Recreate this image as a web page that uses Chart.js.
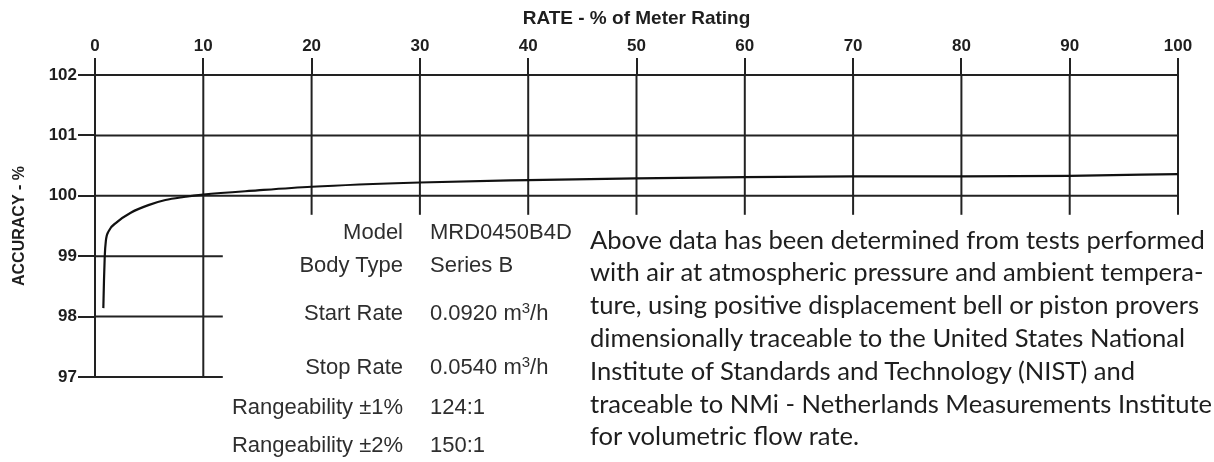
<!DOCTYPE html>
<html>
<head>
<meta charset="utf-8">
<script src="https://cdn.jsdelivr.net/npm/chart.js@4.4.1/dist/chart.umd.min.js"></script>
<style>
  html, body { margin: 0; padding: 0; background: #fff; }
  #wrap { position: relative; width: 1214px; height: 462px; overflow: hidden; }
  #wrap canvas { position: absolute; left: 0; top: 0; }
  .note { position: absolute; pointer-events: none; white-space: nowrap; }
  .spec { font-family: 'Liberation Sans', Arial, sans-serif; font-size: 22px; color: #2e2e2e; line-height: 24px; }
  .spec sup { font-size: 0.68em; vertical-align: 0.5em; line-height: 0; }
  #para { font-family: Lato, 'Open Sans', sans-serif; color: #1e1e1e; line-height: 32.8px; left: 590px; top: 222.6px; }
</style>
</head>
<body>
<div id="wrap">
  <canvas id="chart" width="1214" height="462"></canvas>
  <div id="notes"></div>
</div>
<script>
// ---------- data ----------
const rateValues     = [0.77, 0.83, 0.9, 1.0, 1.25, 2.0, 3.3, 5.0, 6.5, 8.2, 10, 15, 20, 30, 40, 50, 60, 70, 80, 90, 100];
const accuracyValues = [98.14, 98.6, 99.0, 99.25, 99.41, 99.56, 99.72, 99.85, 99.93, 99.98, 100.02, 100.09, 100.15, 100.22, 100.26, 100.29, 100.31, 100.32, 100.32, 100.33, 100.36];
const xTickValues = [0, 10, 20, 30, 40, 50, 60, 70, 80, 90, 100];
const yTickValues = [97, 98, 99, 100, 101, 102];
const xTitle = 'RATE - % of Meter Rating';
const yTitle = 'ACCURACY - %';
const specLabels = ['Model', 'Body Type', 'Start Rate', 'Stop Rate', 'Rangeability \u00b11%', 'Rangeability \u00b12%'];
const specValues = ['MRD0450B4D', 'Series B', '0.0920 m<sup>3</sup>/h', '0.0540 m<sup>3</sup>/h', '124:1', '150:1'];
const noteLines = [
  'Above data has been determined from tests performed',
  'with air at atmospheric pressure and ambient tempera-',
  'ture, using positive displacement bell or piston provers',
  'dimensionally traceable to the United States National',
  'Institute of Standards and Technology (NIST) and',
  'traceable to NMi - Netherlands Measurements Institute',
  'for volumetric flow rate.'
];

// ---------- layout (not data) ----------
const specRowCenters = [232, 265, 313, 367, 407, 445];
const specLabelRight = 403, specValueLeft = 430;
const paraFirstLineWidth = 615;

// ---------- grid plugin ----------
const meterGrid = {
  id: 'meterGrid',
  beforeDatasetsDraw(chart, args, o) {
    const { ctx, scales: { x, y } } = chart;
    const seg = (x1, y1, x2, y2) => { ctx.beginPath(); ctx.moveTo(x1, y1); ctx.lineTo(x2, y2); ctx.stroke(); };
    ctx.save();
    ctx.strokeStyle = o.color;
    ctx.lineWidth = o.width;
    const xMin = x.getPixelForValue(x.min), xMax = x.getPixelForValue(x.max);
    yTickValues.forEach(v => {
      const py = y.getPixelForValue(v);
      const endX = v >= o.splitValue ? xMax : x.getPixelForValue(o.shortRowEnd);
      seg(xMin - 1, py, endX, py);
    });
    xTickValues.forEach(v => {
      const px = x.getPixelForValue(v);
      const endY = v <= o.longColMax ? y.getPixelForValue(y.min) : y.getPixelForValue(o.splitValue) + o.stub;
      seg(px, y.getPixelForValue(y.max) - 1, px, endY + 1);
    });
    ctx.restore();
  }
};

Chart.defaults.font.family = "'Liberation Sans', Arial, sans-serif";
Chart.defaults.color = '#1e1e1e';

new Chart(document.getElementById('chart'), {
  type: 'line',
  data: {
    datasets: [{
      data: rateValues.map((r, i) => ({ x: r, y: accuracyValues[i] })),
      borderColor: '#111',
      borderWidth: 2.2,
      pointRadius: 0,
      cubicInterpolationMode: 'monotone',
      fill: false
    }]
  },
  options: {
    responsive: false,
    animation: false,
    layout: { padding: { left: 0, top: 0, right: 36, bottom: 85 } },
    plugins: {
      legend: { display: false },
      tooltip: { enabled: false },
      meterGrid: { color: '#222', width: 2, splitValue: 100, shortRowEnd: 11.8, longColMax: 10, stub: 18 }
    },
    scales: {
      x: {
        type: 'linear', position: 'top', min: 0, max: 100,
        afterBuildTicks: s => { s.ticks = xTickValues.map(v => ({ value: v })); },
        afterFit: s => { s.height = 75; },
        ticks: { font: { size: 17, weight: 'bold' }, color: '#1e1e1e', padding: 1, maxRotation: 0, autoSkip: false },
        grid: { drawOnChartArea: false, drawTicks: true, tickLength: 17, color: '#222', lineWidth: 2 },
        border: { display: false },
        title: { display: true, text: xTitle, font: { size: 19, weight: 'bold' }, color: '#1e1e1e', padding: { top: 7, bottom: 0 } }
      },
      y: {
        type: 'linear', position: 'left', min: 97, max: 102,
        afterBuildTicks: s => { s.ticks = yTickValues.map(v => ({ value: v })); },
        afterFit: s => { s.width = 95; },
        ticks: { font: { size: 17, weight: 'bold' }, color: '#1e1e1e', padding: 1 },
        grid: { drawOnChartArea: false, drawTicks: true, tickLength: 17, color: '#222', lineWidth: 2 },
        border: { display: false },
        title: { display: true, text: yTitle, font: { size: 16, weight: 'bold' }, color: '#1e1e1e', padding: { top: 10, bottom: 0 } }
      }
    }
  },
  plugins: [meterGrid]
});

// ---------- annotation text ----------
const notes = document.getElementById('notes');
specLabels.forEach((t, i) => {
  const d = document.createElement('div');
  d.className = 'note spec';
  d.style.right = (1214 - specLabelRight) + 'px';
  d.style.top = (specRowCenters[i] - 12) + 'px';
  d.style.textAlign = 'right';
  d.textContent = t;
  notes.appendChild(d);
  const v = document.createElement('div');
  v.className = 'note spec';
  v.style.left = specValueLeft + 'px';
  v.style.top = (specRowCenters[i] - 12) + 'px';
  v.innerHTML = specValues[i];
  notes.appendChild(v);
});
const para = document.createElement('div');
para.id = 'para';
para.className = 'note';
const mctx = document.createElement('canvas').getContext('2d');
mctx.font = "100px Lato";
const fit = 100 * paraFirstLineWidth / mctx.measureText(noteLines[0]).width;
para.style.fontSize = fit.toFixed(2) + 'px';
para.innerHTML = noteLines.map(l => l.replace(/&/g, '&amp;')).join('<br>');
notes.appendChild(para);
</script>
</body>
</html>
